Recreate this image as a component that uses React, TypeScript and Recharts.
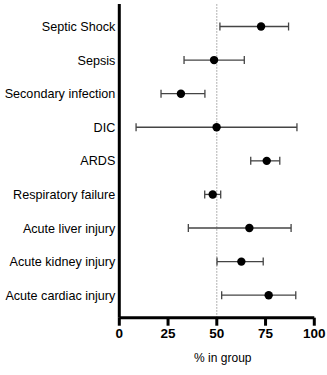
import {
  ScatterChart, Scatter, XAxis, YAxis, ErrorBar, ReferenceLine,
} from 'recharts';

const categories = [
  'Septic Shock',
  'Sepsis',
  'Secondary infection',
  'DIC',
  'ARDS',
  'Respiratory failure',
  'Acute liver injury',
  'Acute kidney injury',
  'Acute cardiac injury',
];
const means = [72.7, 48.6, 31.6, 49.9, 75.6, 47.9, 66.7, 62.6, 76.6];
const lows = [51.6, 33.2, 21.4, 8.6, 67.4, 43.8, 35.4, 50.1, 52.5];
const highs = [86.8, 64.1, 43.9, 91.1, 82.3, 52.0, 88.1, 73.8, 90.5];
const xTicks = [0, 25, 50, 75, 100];

const data = categories.map((name, i) => ({
  idx: i,
  name,
  value: means[i],
  err: [means[i] - lows[i], highs[i] - means[i]],
}));

const font = '"Liberation Sans", Arial, Helvetica, sans-serif';

// plain text tick so long names stay on one line
function CategoryTick({ x, y, payload }: any) {
  return (
    <text x={x} y={y} dy="0.36em" textAnchor="end" fill="#000" fontSize={12.6} fontFamily={font}>
      {categories[payload.value] ?? ''}
    </text>
  );
}

export default function App() {
  return (
    <div style={{ position: 'absolute', left: 0, top: 0, width: 327, height: 375, background: '#fff', fontFamily: font }}>
      <ScatterChart width={327} height={375} margin={{ top: 4, right: 12.7, bottom: 7.3, left: 0 }}>
        <XAxis
          type="number"
          dataKey="value"
          domain={[0, 100]}
          ticks={xTicks}
          interval={0}
          height={50}
          tickSize={8}
          tickMargin={3}
          axisLine={{ stroke: '#000', strokeWidth: 3 }}
          tickLine={{ stroke: '#000', strokeWidth: 3 }}
          tick={{ fill: '#000', fontSize: 13.5, fontWeight: 700, fontFamily: font }}
          label={{ value: '% in group', position: 'insideBottom', offset: 5.7, dx: 6, fill: '#000', fontSize: 12, fontFamily: font }}
        />
        <YAxis
          type="number"
          dataKey="idx"
          domain={[-0.67, 8.67]}
          reversed
          ticks={data.map((d) => d.idx)}
          interval={0}
          width={119.3}
          tickSize={0}
          tickMargin={4}
          tickLine={false}
          axisLine={{ stroke: '#000', strokeWidth: 3 }}
          tick={<CategoryTick />}
        />
        <ReferenceLine x={50} stroke="#999" strokeWidth={1} strokeDasharray="1.5 1.5" />
        <Scatter
          data={data}
          isAnimationActive={false}
          shape={(p: any) => <circle cx={p.cx} cy={p.cy} r={4.2} fill="#000" />}
        >
          <ErrorBar dataKey="err" direction="x" width={4} stroke="#444" strokeWidth={1.3} isAnimationActive={false} />
        </Scatter>
      </ScatterChart>
    </div>
  );
}
